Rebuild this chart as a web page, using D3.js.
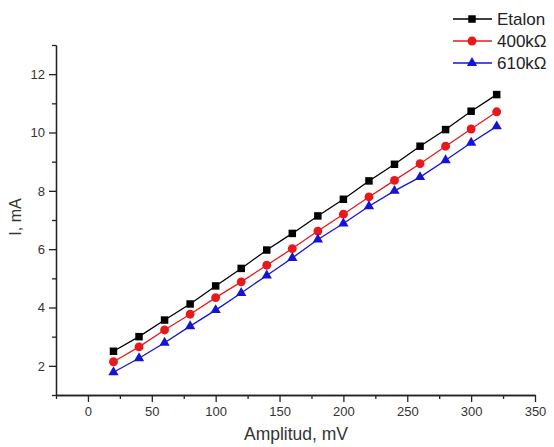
<!DOCTYPE html>
<html><head><meta charset="utf-8">
<script src="https://cdn.jsdelivr.net/npm/d3@7"></script>
<style>body{margin:0;background:#fff}svg{display:block}text{font-family:"Liberation Sans",Arial,sans-serif}</style>
</head><body>
<svg id="c" width="554" height="447"></svg>
<script>
const amplitude = [20,40,60,80,100,120,140,160,180,200,220,240,260,280,300,320];
const etalon = [2.50,3.00,3.57,4.12,4.74,5.34,5.97,6.54,7.14,7.71,8.34,8.91,9.53,10.10,10.73,11.30];
const r400 = [2.14,2.65,3.23,3.77,4.34,4.88,5.45,6.02,6.62,7.20,7.79,8.36,8.93,9.53,10.12,10.71];
const r610 = [1.78,2.26,2.79,3.36,3.91,4.50,5.10,5.70,6.33,6.88,7.47,8.00,8.47,9.05,9.65,10.21];
const seriesNames = ["Etalon","400kΩ","610kΩ"];
const xTicks = [0,50,100,150,200,250,300,350];
const yTicks = [2,4,6,8,10,12];

const series = [
  {name: seriesNames[0], values: etalon, color: "#000000", shape: d3.symbolSquare},
  {name: seriesNames[1], values: r400, color: "#e8191c", shape: d3.symbolCircle},
  {name: seriesNames[2], values: r610, color: "#1414d4", shape: d3.symbolTriangle}
];

const svg = d3.select("#c");
const x = d3.scaleLinear().domain([-25,350]).range([56,535]);
const y = d3.scaleLinear().domain([1,13]).range([395,45]);

const xAxis = d3.axisBottom(x).tickValues(xTicks).tickSize(7).tickPadding(5).tickSizeOuter(0);
const gx = svg.append("g").attr("transform","translate(0,395)").call(xAxis);
const yAxis = d3.axisLeft(y).tickValues(yTicks).tickSize(7).tickPadding(4).tickSizeOuter(0);
const gy = svg.append("g").attr("transform","translate(56,0)").call(yAxis);
svg.append("g").attr("transform","translate(0,395)").call(d3.axisBottom(x).tickValues(d3.range(-25,351,50)).tickSize(4).tickFormat("").tickSizeOuter(0));
svg.append("g").attr("transform","translate(56,0)").call(d3.axisLeft(y).tickValues(d3.range(1,14,2)).tickSize(4).tickFormat("").tickSizeOuter(0));
svg.selectAll(".domain, .tick line").attr("stroke","#222").attr("stroke-width",1.3);
[gx,gy].forEach(g=>g.selectAll("text").attr("font-size",13).attr("fill","#333").style("font-family","'Liberation Sans',Arial,sans-serif"));

svg.append("text").attr("x",296).attr("y",440).attr("text-anchor","middle").attr("font-size",17.5).attr("fill","#333").text("Amplitud, mV");
svg.append("text").attr("transform","translate(21,217) rotate(-90)").attr("text-anchor","middle").attr("font-size",16).attr("fill","#333").text("I, mA");

const line = d3.line().x((d,i)=>x(amplitude[i])).y(d=>y(d));
const sizes = [56, 62, 46];
series.forEach((s,k)=>{
  svg.append("path").datum(s.values).attr("d",line).attr("fill","none").attr("stroke",s.color).attr("stroke-width",1.3);
  svg.append("g").selectAll("path").data(s.values).join("path")
    .attr("transform",(d,i)=>`translate(${x(amplitude[i])},${y(d)})`)
    .attr("d",d3.symbol().type(s.shape).size(sizes[k]))
    .attr("fill",s.color);
});

const lg = svg.append("g");
series.forEach((s,k)=>{
  const yy = 19 + k*22;
  lg.append("line").attr("x1",453).attr("x2",492).attr("y1",yy).attr("y2",yy).attr("stroke",s.color).attr("stroke-width",1.3);
  lg.append("path").attr("transform",`translate(472,${yy})`).attr("d",d3.symbol().type(s.shape).size(sizes[k])).attr("fill",s.color);
  lg.append("text").attr("x",497).attr("y",yy+6).attr("font-size",17).attr("fill","#222").text(s.name);
});
</script>
</body></html>
